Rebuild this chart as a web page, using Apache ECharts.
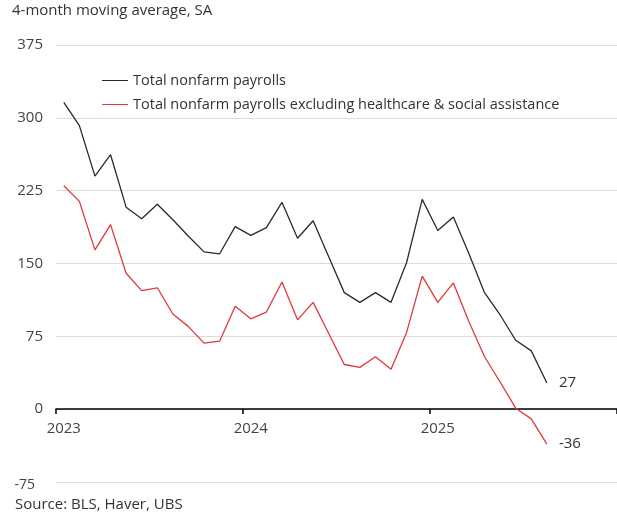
<!DOCTYPE html>
<html>
<head>
<meta charset="utf-8">
<script src="https://cdn.jsdelivr.net/npm/echarts@6/dist/echarts.min.js"></script>
<style>
html,body{margin:0;padding:0;background:#fff;}
#chart{width:617px;height:520px;}
</style>
</head>
<body>
<div id="chart"></div>
<script>
// Categories: months Jan 2023 .. Dec 2025 (axis extends past data)
const months = [];
for (let y = 2023; y <= 2025; y++) {
  for (let m = 1; m <= 12; m++) months.push(y + '-' + (m < 10 ? '0' + m : m));
}
// 4-month moving average, thousands, SA (Jan 2023 .. Aug 2025)
const totalNonfarm = [316, 292, 240, 262, 208, 196, 211, 195, 178, 162, 160, 188,
  179, 187, 213, 176, 194, 157, 120, 110, 120, 110, 151, 216,
  184, 198, 160, 120, 97, 71, 60, 27];
const exHealthcare = [230, 214, 164, 190, 140, 122, 125, 98, 85, 68, 70, 106,
  93, 100, 131, 92, 110, 78, 46, 43, 54, 41, 79, 137,
  110, 130, 90, 54, 28, 1, -10, -36];
const yTicks = [-75, 0, 75, 150, 225, 300, 375];
const seriesNames = ['Total nonfarm payrolls', 'Total nonfarm payrolls excluding healthcare & social assistance'];
const titleText = '4-month moving average, SA';
const sourceText = 'Source: BLS, Haver, UBS';

const FONT = '"Open Sans", "Noto Sans", sans-serif';
const chart = echarts.init(document.getElementById('chart'), null, {renderer: 'canvas'});
chart.setOption({
  animation: false,
  backgroundColor: '#fff',
  textStyle: {fontFamily: FONT},
  graphic: [
    {type: 'text', left: 12, top: 3, style: {text: titleText, font: '15px ' + FONT, fill: '#333'}},
    {type: 'text', left: 15, top: 497, style: {text: sourceText, font: '15px ' + FONT, fill: '#333'}}
  ],
  legend: {
    orient: 'vertical',
    left: 97,
    top: 68,
    itemWidth: 26,
    itemHeight: 1,
    itemGap: 9,
    icon: 'rect',
    textStyle: {fontFamily: FONT, fontSize: 14.5, color: '#333'},
    data: seriesNames
  },
  grid: {left: 56, right: 0, top: 45, bottom: 38, containLabel: false},
  xAxis: {
    type: 'category',
    data: months,
    boundaryGap: true,
    offset: -73,
    axisLine: {onZero: false, lineStyle: {color: '#000', width: 1.5}},
    axisTick: {
      show: true, length: 5, lineStyle: {color: '#000', width: 1.5},
      interval: function (i) { return i % 12 === 0; }
    },
    axisLabel: {
      interval: function (i) { return i % 12 === 0; },
      formatter: function (v) { return v.slice(0, 4); },
      color: '#444', fontSize: 15, fontFamily: FONT, margin: 12
    },
    splitLine: {show: false}
  },
  yAxis: {
    type: 'value',
    min: yTicks[0],
    max: yTicks[yTicks.length - 1],
    interval: 75,
    axisLine: {show: false},
    axisTick: {show: false},
    axisLabel: {
      color: '#444', fontSize: 15, fontFamily: FONT, margin: 13,
      formatter: function (v) { return v < 0 ? '{n|' + v + '}' : String(v); },
      rich: {n: {color: '#444', fontSize: 14, fontFamily: FONT, padding: [6, 8, 0, 0]}}
    },
    splitLine: {lineStyle: {color: '#dcdcdc', width: 1}}
  },
  series: [
    {
      name: seriesNames[0], type: 'line', data: totalNonfarm,
      showSymbol: false, symbol: 'none',
      lineStyle: {color: '#2a2a2a', width: 1.3}, itemStyle: {color: '#2a2a2a'},
      endLabel: {show: true, distance: 12, color: '#333', fontSize: 15, fontFamily: FONT,
        formatter: function (p) { return p.value; }},
      z: 3
    },
    {
      name: seriesNames[1], type: 'line', data: exHealthcare,
      showSymbol: false, symbol: 'none',
      lineStyle: {color: '#e0383c', width: 1.3}, itemStyle: {color: '#e0383c'},
      endLabel: {show: true, distance: 12, color: '#333', fontSize: 15, fontFamily: FONT,
        formatter: function (p) { return p.value; }},
      z: 2
    }
  ]
});
</script>
</body>
</html>
